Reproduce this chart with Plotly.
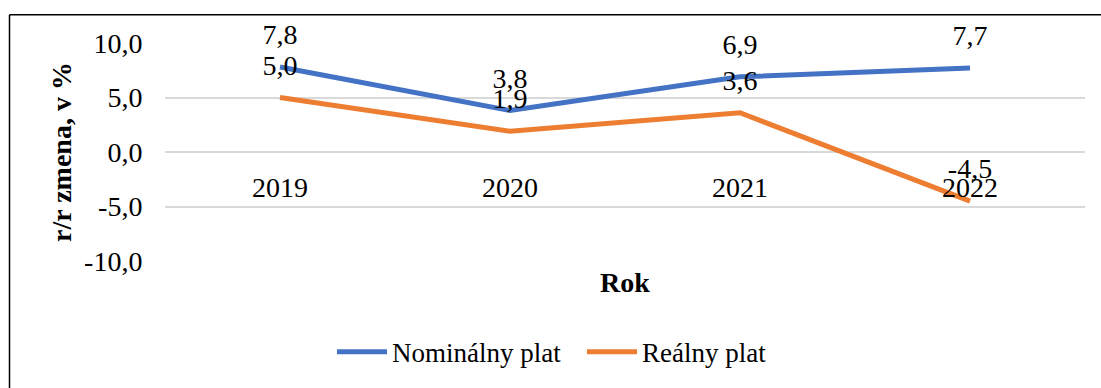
import plotly.graph_objects as go

years = ["2019", "2020", "2021", "2022"]
nominal = [7.8, 3.8, 6.9, 7.7]
real = [5.0, 1.9, 3.6, -4.5]
y_ticks = [-10, -5, 0, 5, 10]

FONT = "Liberation Serif"
FS = 28
FS_LEG = 27

W, H = 1101, 388
L, R, T, B = 165, 16, 43, 125
pw = W - L - R
ph = H - T - B

def px_x(p):
    return (p - L) / pw

def px_y(p):
    return (H - B - p) / ph

def fmt(v):
    return f"{v:.1f}".replace(".", ",")

fig = go.Figure()
for name, vals, col in [("Nominálny plat", nominal, "#4472C4"), ("Reálny plat", real, "#ED7D31")]:
    fig.add_trace(go.Scatter(
        x=years, y=vals, name=name, mode="lines+markers+text",
        line=dict(color=col, width=5),
        marker=dict(size=24, color="rgba(0,0,0,0)"),
        text=[fmt(v) for v in vals], textposition="top center",
        textfont=dict(family=FONT, size=FS, color="black"),
        cliponaxis=False, hoverinfo="skip",
    ))

fig.update_layout(
    width=W, height=H,
    margin=dict(l=L, r=R, t=T, b=B),
    paper_bgcolor="white", plot_bgcolor="white",
    font=dict(family=FONT, size=FS, color="black"),
    showlegend=True,
    legend=dict(orientation="h", x=px_x(332), xanchor="left", y=px_y(355), yanchor="middle",
                font=dict(family=FONT, size=FS_LEG), itemwidth=50,
                entrywidth=185, entrywidthmode="pixels"),
    xaxis=dict(
        type="category", range=[-0.5, 3.5], anchor="free", position=0.5,
        showgrid=False, showline=False, ticks="outside", ticklen=10, tickcolor="rgba(0,0,0,0)",
        tickfont=dict(family=FONT, size=FS),
        title=dict(text="<b>Rok</b>", font=dict(family=FONT, size=FS), standoff=70),
    ),
    yaxis=dict(
        range=[-10, 10], tickvals=y_ticks, ticktext=[fmt(v) for v in y_ticks],
        showgrid=True, gridcolor="#d9d9d9", gridwidth=1.5,
        zeroline=True, zerolinecolor="#d9d9d9", zerolinewidth=1.5,
        showline=False, ticks="outside", ticklen=16, tickcolor="rgba(0,0,0,0)",
        tickfont=dict(family=FONT, size=FS),
        title=dict(text="<b>r/r zmena, v %</b>", font=dict(family=FONT, size=FS), standoff=4),
    ),
    shapes=[
        dict(type="line", xref="paper", yref="paper", x0=px_x(9.5), x1=px_x(9.5), y0=px_y(14.5), y1=px_y(400),
             line=dict(color="black", width=1.5)),
        dict(type="line", xref="paper", yref="paper", x0=px_x(9.5), x1=px_x(1110), y0=px_y(14.5), y1=px_y(14.5),
             line=dict(color="black", width=1.5)),
    ],
)

fig.write_html("out.html")
